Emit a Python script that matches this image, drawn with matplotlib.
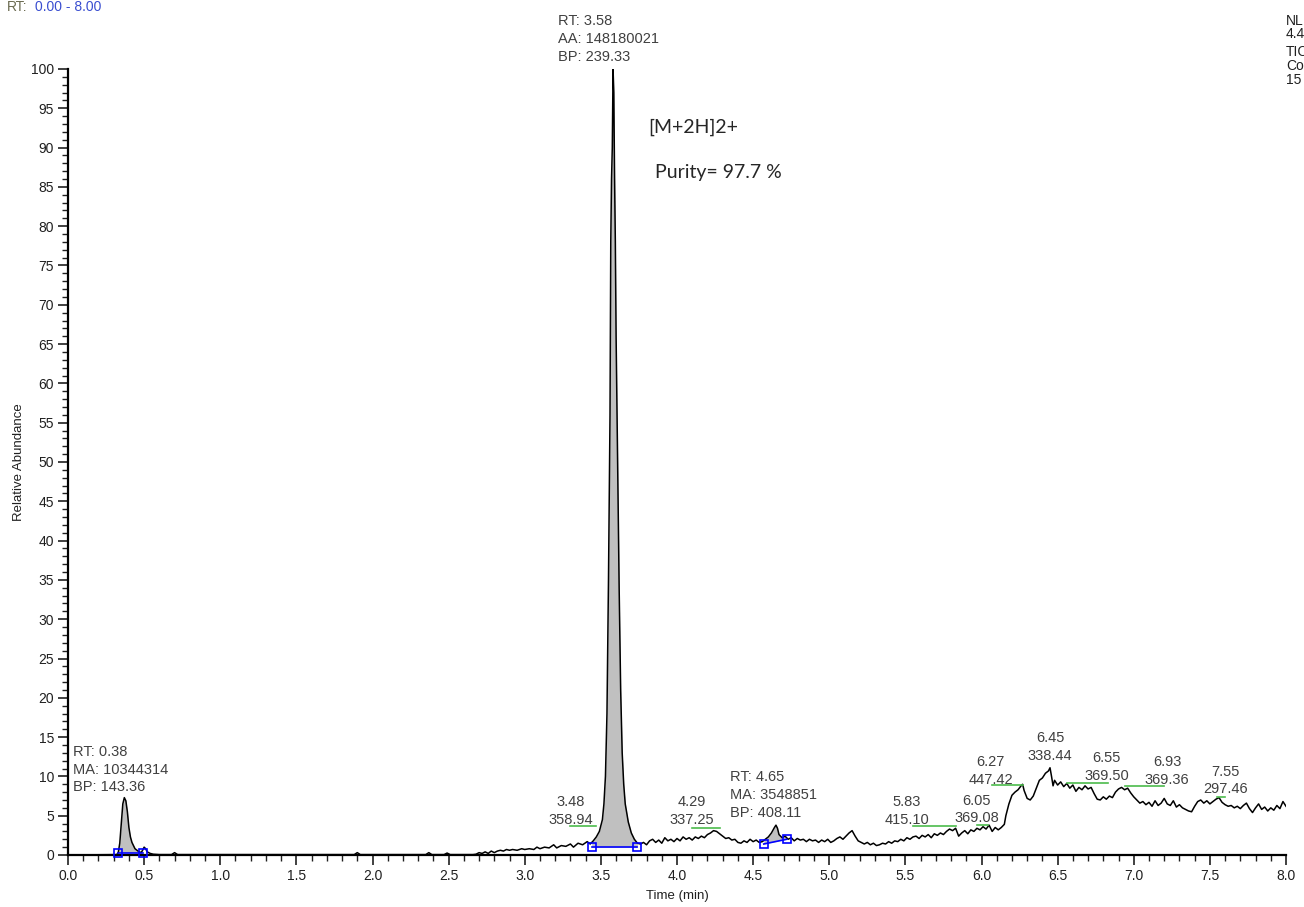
import numpy as np
import matplotlib
matplotlib.use('Agg')
import matplotlib.pyplot as plt
from matplotlib.ticker import MultipleLocator

# ── Data ───────────────────────────────────────────────────────────
time_min = [
    0.00, 0.32, 0.33, 0.34, 0.35, 0.36, 0.37, 0.38, 0.39, 0.40, 0.41, 0.42, 0.43, 0.44,
    0.46, 0.48, 0.49, 0.50, 0.51, 0.52, 0.54, 0.56, 0.60, 0.68, 0.70, 0.72, 1.00, 1.50,
    1.88, 1.90, 1.92, 2.35, 2.37, 2.39, 2.47, 2.49, 2.51, 2.66,
    2.68, 2.70, 2.72, 2.74, 2.76, 2.78, 2.80, 2.82, 2.84, 2.86, 2.88, 2.90, 2.92, 2.95,
    2.98, 3.00, 3.03, 3.06, 3.08, 3.10, 3.13, 3.16, 3.19, 3.21, 3.24, 3.27, 3.30, 3.32,
    3.35, 3.38, 3.41, 3.43, 3.45, 3.47, 3.49, 3.51, 3.52, 3.53, 3.54, 3.55, 3.56, 3.565,
    3.57, 3.575, 3.58, 3.585, 3.59, 3.595, 3.60, 3.61, 3.62, 3.63, 3.64, 3.65, 3.66, 3.68,
    3.70, 3.72, 3.74, 3.76, 3.78, 3.80, 3.82, 3.84, 3.86, 3.88, 3.90, 3.92, 3.94, 3.96,
    3.98, 4.00, 4.02, 4.04, 4.06, 4.08, 4.10, 4.12, 4.14, 4.16, 4.18, 4.20, 4.22, 4.24,
    4.26, 4.28, 4.30, 4.32, 4.34, 4.36, 4.38, 4.40, 4.42, 4.44, 4.46, 4.48, 4.50, 4.52,
    4.54, 4.56, 4.58, 4.60, 4.62, 4.64, 4.65, 4.66, 4.67, 4.69, 4.71, 4.73, 4.75, 4.77,
    4.79, 4.81, 4.83, 4.85, 4.87, 4.89, 4.91, 4.93, 4.95, 4.97, 4.99, 5.01, 5.03, 5.05,
    5.07, 5.09, 5.11, 5.13, 5.15, 5.17, 5.19, 5.21, 5.23, 5.25, 5.27, 5.29, 5.31, 5.33,
    5.35, 5.37, 5.39, 5.41, 5.43, 5.45, 5.47, 5.49, 5.51, 5.53, 5.55, 5.57, 5.59, 5.61,
    5.63, 5.65, 5.67, 5.69, 5.71, 5.73, 5.75, 5.77, 5.79, 5.81, 5.83, 5.85, 5.87, 5.89,
    5.91, 5.93, 5.95, 5.97, 5.99, 6.01, 6.03, 6.05, 6.07, 6.09, 6.11, 6.13, 6.15, 6.16,
    6.18, 6.20, 6.22, 6.24, 6.26, 6.27, 6.28, 6.30, 6.32, 6.34, 6.36, 6.38, 6.40, 6.42,
    6.44, 6.45, 6.46, 6.47, 6.48, 6.50, 6.52, 6.54, 6.56, 6.58, 6.60, 6.62, 6.64, 6.66,
    6.68, 6.70, 6.72, 6.74, 6.76, 6.78, 6.80, 6.82, 6.84, 6.86, 6.88, 6.90, 6.92, 6.94,
    6.96, 6.98, 7.00, 7.02, 7.04, 7.06, 7.08, 7.10, 7.12, 7.14, 7.16, 7.18, 7.20, 7.22,
    7.24, 7.26, 7.28, 7.30, 7.32, 7.34, 7.36, 7.38, 7.40, 7.42, 7.44, 7.46, 7.48, 7.50,
    7.52, 7.54, 7.56, 7.58, 7.60, 7.62, 7.64, 7.66, 7.68, 7.70, 7.72, 7.74, 7.76, 7.78,
    7.80, 7.82, 7.84, 7.86, 7.88, 7.90, 7.92, 7.94, 7.96, 7.98, 8.00,
]
abundance = [
    0.0, 0.05, 0.3, 1.5, 4.0, 6.5, 7.3, 6.9, 5.5, 3.5, 2.3, 1.6, 1.2, 0.8,
    0.5, 0.3, 0.6, 1.0, 0.8, 0.4, 0.2, 0.1, 0.05, 0.05, 0.3, 0.05, 0.05, 0.05,
    0.05, 0.3, 0.05, 0.05, 0.3, 0.05, 0.05, 0.25, 0.05, 0.05,
    0.1, 0.3, 0.2, 0.4, 0.2, 0.5, 0.3, 0.5, 0.6, 0.5, 0.7, 0.6, 0.7, 0.6,
    0.8, 0.7, 0.8, 0.7, 1.0, 0.8, 1.0, 0.9, 1.3, 0.9, 1.2, 1.1, 1.4, 1.0,
    1.5, 1.3, 1.7, 1.4, 1.8, 2.3, 3.0, 4.5, 6.5, 10, 18, 35, 56, 78,
    86, 90, 100, 97, 86, 78, 66, 50, 34, 21, 13, 9, 6.5, 4.2,
    2.8, 2.0, 1.5, 1.4, 1.6, 1.3, 1.8, 2.0, 1.6, 1.9, 1.5, 2.2, 1.8, 2.0,
    1.7, 2.1, 1.8, 2.3, 2.0, 2.2, 1.9, 2.3, 2.1, 2.4, 2.2, 2.6, 2.8, 3.1,
    3.0, 2.7, 2.4, 2.1, 2.2, 1.9, 2.0, 1.6, 1.5, 1.8, 1.6, 2.0, 1.7, 1.9,
    1.6, 1.7, 2.0, 2.3, 2.8, 3.5, 3.8, 3.4, 2.6, 2.2, 2.4, 2.0, 2.2, 1.8,
    2.1, 1.9, 2.0, 1.7, 2.0, 1.8, 1.9, 1.6, 1.9, 1.7, 2.0, 1.6, 1.8, 2.1,
    2.3, 2.0, 2.4, 2.8, 3.1, 2.4, 1.8, 1.6, 1.4, 1.6, 1.3, 1.5, 1.2, 1.3,
    1.5, 1.4, 1.7, 1.5, 1.8, 1.7, 2.0, 1.8, 2.2, 2.0, 2.3, 2.4, 2.1, 2.5,
    2.3, 2.6, 2.2, 2.7, 2.5, 2.8, 2.6, 3.0, 3.3, 3.1, 3.4, 2.4, 2.8, 3.1,
    2.7, 3.2, 3.0, 3.4, 3.2, 3.6, 3.3, 3.8, 3.0, 3.5, 3.2, 3.5, 3.9, 5.0,
    6.5, 7.6, 8.0, 8.3, 8.8, 9.0, 8.2, 7.2, 7.0, 7.5, 8.5, 9.5, 9.8, 10.4,
    10.7, 11.1, 10.0, 8.8, 9.5, 8.9, 9.3, 8.7, 9.1, 8.5, 8.9, 8.1, 8.6, 8.3,
    8.8, 8.4, 8.6, 7.8, 7.1, 7.0, 7.4, 7.1, 7.5, 7.3, 8.0, 8.4, 8.6, 8.3,
    8.5, 7.9, 7.4, 7.0, 6.6, 6.8, 6.4, 6.7, 6.2, 6.9, 6.3, 6.6, 7.2, 6.5,
    6.3, 6.9, 6.1, 6.4, 6.0, 5.8, 5.6, 5.5, 6.2, 6.8, 7.0, 6.6, 6.9, 6.5,
    6.8, 7.1, 7.3, 6.7, 6.4, 6.2, 6.3, 6.0, 6.2, 5.9, 6.3, 6.6, 5.9, 5.4,
    6.0, 6.5, 5.8, 6.1, 5.6, 6.0, 5.7, 6.3, 5.9, 6.8, 6.2,
]

# integrated peaks: start, end, baseline at start, baseline at end
peak_start = [0.33, 3.44, 4.57]
peak_end = [0.49, 3.74, 4.72]
base_start = [0.3, 1.0, 1.4]
base_end = [0.3, 1.0, 2.0]

# peak labels
main_label = ['RT: 3.58', 'AA: 148180021', 'BP: 239.33']
left_label = ['RT: 0.38', 'MA: 10344314', 'BP: 143.36']
small_label = ['RT: 4.65', 'MA: 3548851', 'BP: 408.11']
apex_rt = ['3.48', '4.29', '5.83', '6.05', '6.27', '6.45', '6.55', '6.93', '7.55']
apex_bp = ['358.94', '337.25', '415.10', '369.08', '447.42', '338.44', '369.50', '369.36', '297.46']
apex_x = [3.30, 4.10, 5.51, 5.97, 6.06, 6.45, 6.82, 7.22, 7.60]
apex_y = [6.7, 6.7, 6.7, 6.9, 11.8, 14.9, 12.3, 11.8, 10.6]
# green marks under the apex labels: x from, x to, level
green_x0 = [3.30, 4.10, 5.55, 5.97, 6.07, None, 6.56, 6.94, 7.55]
green_x1 = [3.47, 4.28, 5.83, 6.04, 6.27, None, 6.83, 7.20, 7.60]
green_y = [3.7, 3.4, 3.7, 3.8, 8.9, None, 9.2, 8.8, 7.4]

# header fragments (cut at the right edge in the source export)
corner_text = ['NL', '4.4', 'TIC', 'Co', '15']

plt.rcParams['font.family'] = ['Liberation Sans', 'DejaVu Sans']
INK = '#202020'
LBL = '#404040'

fig = plt.figure(figsize=(13.04, 9.07), dpi=100)
ax = fig.add_axes([68 / 1304, 52 / 907, (1286 - 68) / 1304, (855 - 69) / 907])

t = np.array(time_min)
a = np.array(abundance)

# gray filled peak areas + blue baselines
for x0, x1, b0, b1 in zip(peak_start, peak_end, base_start, base_end):
    m = (t >= x0) & (t <= x1)
    tt = np.concatenate([[x0], t[m], [x1]])
    yy = np.interp(tt, t, a)
    bb = np.interp(tt, [x0, x1], [b0, b1])
    ax.fill_between(tt, bb, yy, where=yy >= bb, color='#c0c0c0', lw=0, zorder=1)
    ax.plot([x0, x1], [b0, b1], color='#0000ff', lw=1.2, zorder=3)
    ax.plot([x0, x1], [b0, b1], ls='none', marker='s', ms=6, mfc='none',
            mec='#0000ff', mew=1.2, zorder=4, clip_on=False)

ax.plot(t, a, color='black', lw=1.1, zorder=2)

# green label marks
for x0, x1, gy in zip(green_x0, green_x1, green_y):
    if x0 is None:
        continue
    ax.plot([x0, x1], [gy, gy], color='#4cbb4c', lw=1.2, zorder=2)

# axes styling
ax.set_xlim(0, 8)
ax.set_ylim(0, 100)
for s in ['top', 'right']:
    ax.spines[s].set_visible(False)
for s in ['left', 'bottom']:
    ax.spines[s].set_linewidth(1.6)
ax.xaxis.set_major_locator(MultipleLocator(0.5))
ax.xaxis.set_minor_locator(MultipleLocator(0.1))
ax.yaxis.set_major_locator(MultipleLocator(5))
ax.yaxis.set_minor_locator(MultipleLocator(1))
ax.xaxis.set_major_formatter(lambda v, p: f'{v:.1f}')
ax.tick_params(which='major', length=7, width=1.2, labelsize=10, colors=INK, pad=3)
ax.tick_params(which='minor', length=4, width=1.0, colors=INK)
ax.set_xlabel('Time (min)', fontsize=9.5, color=INK, labelpad=5)
ax.set_ylabel('Relative Abundance', fontsize=9.5, color=INK)
ax.yaxis.set_label_coords(-0.035, 0.5)

# peak annotations
for i, s in enumerate(main_label):
    ax.text(3.22, 106.1 - 2.3 * i, s, fontsize=10.5, color=LBL, va='center', clip_on=False)
for i, s in enumerate(left_label):
    ax.text(0.033, 13.1 - 2.25 * i, s, fontsize=10.5, color=LBL, va='center')
for i, s in enumerate(small_label):
    ax.text(4.35, 9.9 - 2.3 * i, s, fontsize=10.5, color=LBL, va='center')
for rt, bp, x, y in zip(apex_rt, apex_bp, apex_x, apex_y):
    ax.text(x, y, rt, fontsize=10.5, color=LBL, ha='center', va='center')
    ax.text(x, y - 2.25, bp, fontsize=10.5, color=LBL, ha='center', va='center')

ax.text(3.81, 92.6, '[M+2H]2+', fontsize=14, family=['Lato', 'DejaVu Sans'],
        color='#262626', va='center')
ax.text(3.855, 86.8, 'Purity= 97.7 %', fontsize=14, family=['Lato', 'DejaVu Sans'],
        color='#262626', va='center')

# header texts
fig.text(7 / 1304, 1 - 7 / 907, 'RT:', fontsize=10, color='#6a6a50', va='center')
fig.text(35 / 1304, 1 - 7 / 907, '0.00 - 8.00', fontsize=10, color='#3a4ed0', va='center')
for s, py in zip(corner_text, [21, 34, 52, 66, 80]):
    fig.text(1286 / 1304, 1 - py / 907, s, fontsize=10, color=INK, va='center')

fig.savefig('out.png', dpi=100)
